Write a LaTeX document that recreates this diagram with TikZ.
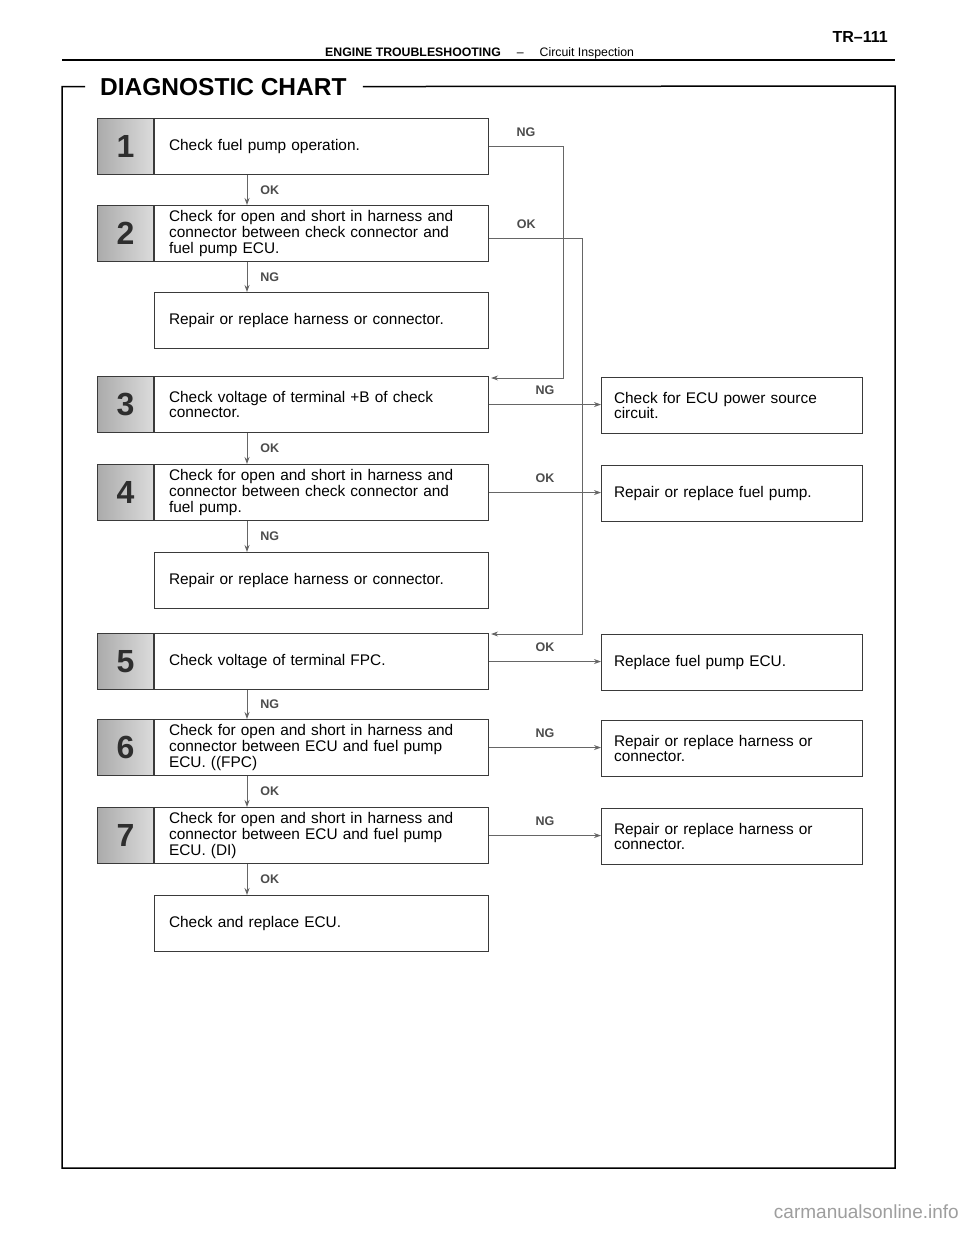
\documentclass[tikz,border=0pt]{standalone}
\usepackage{fontspec}
\setmainfont{Liberation Sans}
\usetikzlibrary{calc,positioning,arrows.meta}
\definecolor{BoxLine}{HTML}{3A3A3A}
\definecolor{FlowLine}{HTML}{666666}
\newcommand\boxfont{\fontsize{15.4}{15.6}\selectfont}

\tikzset{
  stepbox/.style={draw=BoxLine, line width=1.1pt, anchor=north west,
    minimum width=334pt, minimum height=56pt, text width=305pt,
    inner sep=0pt, align=left, font=\boxfont},
  numbox/.style={draw=BoxLine, line width=1.1pt, minimum width=56pt,
    minimum height=56pt, inner sep=0pt, left color=black!33,
    right color=black!14, text=black!82,
    font=\bfseries\fontsize{32}{32}\selectfont},
  endbox/.style={stepbox, minimum width=261pt, text width=236pt},
  flow/.style={draw=FlowLine, line width=0.9pt, -{Stealth[length=7pt,width=5pt]}},
  lbl/.style={font=\bfseries\fontsize{12.5}{12.5}\selectfont, text=black!70, inner sep=1pt}
}

\begin{document}
\begin{tikzpicture}[x=1pt,y=-1pt]
  \fill[white] (0,0) rectangle (960,1242);

  % page head
  \draw[line width=1.5pt] (62,60) -- (895,60);
  \node[anchor=base west, inner sep=0pt, font=\fontsize{12.3}{12.3}\selectfont] (head) at (325,56)
    {\textbf{ENGINE TROUBLESHOOTING}\hspace{16pt}–\hspace{16pt}Circuit Inspection};
  \node[anchor=base east, inner sep=0pt, font=\bfseries\fontsize{16}{16}\selectfont] (page) at (888,42) {TR–111};

  % chart frame
  \node[anchor=base west, inner sep=0pt, font=\bfseries\fontsize{24.5}{24.5}\selectfont] (title) at (100,95) {DIAGNOSTIC CHART};
  \draw[line width=1.5pt] ($(title.west)+(-15pt,0)$) -| (62,1168) -| (895,86) -- ($(title.east)+(16pt,0)$);

  % left column
  \node[stepbox] (s1) at (154,118) {Check fuel pump operation.};
  \node[numbox, left=0pt of s1] (n1) {1};
  \node[stepbox] (s2) at (154,205) {Check for open and short in harness and\\connector between check connector and\\fuel pump ECU.};
  \node[numbox, left=0pt of s2] (n2) {2};
  \node[stepbox] (fix1) at (154,292) {Repair or replace harness or connector.};
  \node[stepbox] (s3) at (154,376) {Check voltage of terminal +B of check\\connector.};
  \node[numbox, left=0pt of s3] (n3) {3};
  \node[stepbox] (s4) at (154,464) {Check for open and short in harness and\\connector between check connector and\\fuel pump.};
  \node[numbox, left=0pt of s4] (n4) {4};
  \node[stepbox] (fix2) at (154,552) {Repair or replace harness or connector.};
  \node[stepbox] (s5) at (154,633) {Check voltage of terminal FPC.};
  \node[numbox, left=0pt of s5] (n5) {5};
  \node[stepbox] (s6) at (154,719) {Check for open and short in harness and\\connector between ECU and fuel pump\\ECU. ((FPC)};
  \node[numbox, left=0pt of s6] (n6) {6};
  \node[stepbox] (s7) at (154,807) {Check for open and short in harness and\\connector between ECU and fuel pump\\ECU. (DI)};
  \node[numbox, left=0pt of s7] (n7) {7};
  \node[stepbox] (ecu) at (154,895) {Check and replace ECU.};

  % right column
  \node[endbox] (r3) at (601,377) {Check for ECU power source\\circuit.};
  \node[endbox] (r4) at (601,465) {Repair or replace fuel pump.};
  \node[endbox] (r5) at (601,634) {Replace fuel pump ECU.};
  \node[endbox] (r6) at (601,720) {Repair or replace harness or\\connector.};
  \node[endbox] (r7) at (601,808) {Repair or replace harness or\\connector.};

  % down arrows
  \coordinate (ax) at (247,0);
  \draw[flow] (s1.south -| ax) -- node[lbl, right=12pt, midway] {OK} (s2.north -| ax);
  \draw[flow] (s2.south -| ax) -- node[lbl, right=12pt, midway] {NG} (fix1.north -| ax);
  \draw[flow] (s3.south -| ax) -- node[lbl, right=12pt, midway] {OK} (s4.north -| ax);
  \draw[flow] (s4.south -| ax) -- node[lbl, right=12pt, midway] {NG} (fix2.north -| ax);
  \draw[flow] (s5.south -| ax) -- node[lbl, right=12pt, midway] {NG} (s6.north -| ax);
  \draw[flow] (s6.south -| ax) -- node[lbl, right=12pt, midway] {OK} (s7.north -| ax);
  \draw[flow] (s7.south -| ax) -- node[lbl, right=12pt, midway] {OK} (ecu.north -| ax);

  % return lines
  \coordinate (bus1) at (563,0);
  \coordinate (bus2) at (582,0);
  \draw[flow] (s1.east) -- node[lbl, above=8pt, midway] {NG} (s1.east -| bus1)
    |- ($(s3.north east)+(2pt,-2pt)$);
  \draw[flow] ($(s2.east)+(0,-5pt)$) -- node[lbl, above=8pt, pos=0.4] {OK} ($(s2.east -| bus2)+(0,-5pt)$)
    |- ($(s5.north east)+(2pt,-1pt)$);

  % side arrows
  \draw[flow] (s3.east) -- node[lbl, above=8pt, midway] {NG} (s3.east -| r3.west);
  \draw[flow] (s4.east) -- node[lbl, above=8pt, midway] {OK} (s4.east -| r4.west);
  \draw[flow] (s5.east) -- node[lbl, above=8pt, midway] {OK} (s5.east -| r5.west);
  \draw[flow] (s6.east) -- node[lbl, above=8pt, midway] {NG} (s6.east -| r6.west);
  \draw[flow] (s7.east) -- node[lbl, above=8pt, midway] {NG} (s7.east -| r7.west);

  \node[anchor=east, inner sep=0pt, text=black!38, font=\fontsize{19}{19}\selectfont] (mark) at (959,1212) {carmanualsonline.info};
\end{tikzpicture}
\end{document}
